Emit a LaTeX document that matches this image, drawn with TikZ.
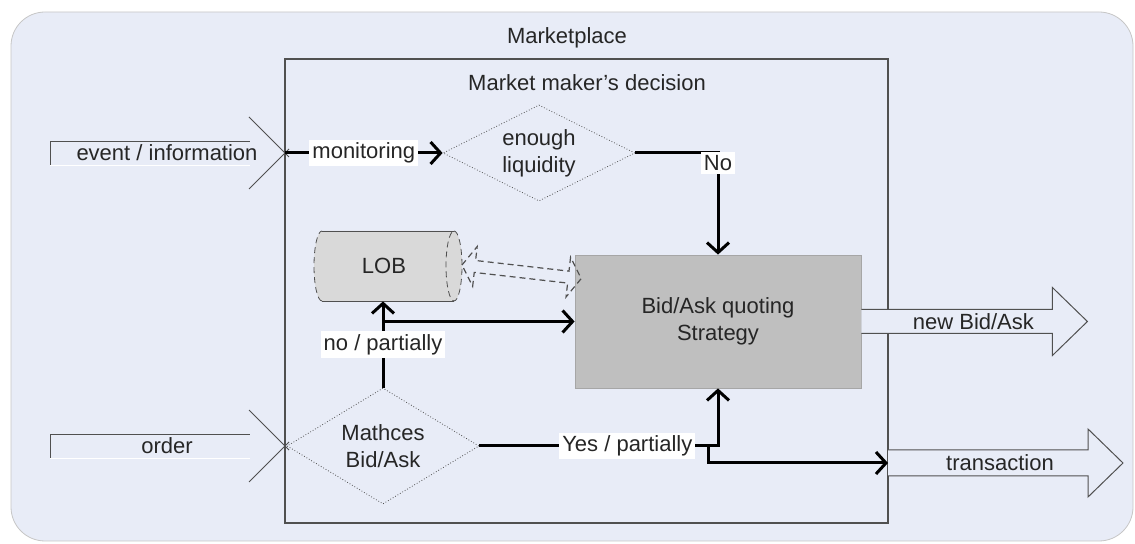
\documentclass[tikz,border=0pt]{standalone}
\usepackage{fontspec}
\setmainfont{Liberation Sans}
\usetikzlibrary{shapes.geometric, arrows.meta, calc}
\definecolor{marketbg}{HTML}{E8ECF7}
\definecolor{stratgray}{HTML}{BFBFBF}
\definecolor{lobgray}{HTML}{D9D9D9}
\definecolor{edgegray}{HTML}{505050}

\begin{document}
\begin{tikzpicture}[x=0.5pt, y=-0.5pt,
    txt/.style={font=\fontsize{11}{13.5}\selectfont, text=black!85, align=center},
    decision/.style={diamond, draw=edgegray, densely dotted, thin, txt, inner sep=0pt},
    flow/.style={line width=1.5pt, -{Straight Barb[length=5pt, width=11pt]}},
    lbl/.style={txt, fill=white, inner sep=1.5pt},
    bigarrow/.style={draw=edgegray, fill=marketbg, line width=0.5pt}]

    % Marketplace frame
    \useasboundingbox (0,0) rectangle (1135,544);
    \draw[gray!45, fill=marketbg, rounded corners=17pt] (11,12) rectangle (1133,541);
    \node[txt] (market) at (567,38) {Marketplace};

    % Market maker frame
    \draw[edgegray, line width=0.6pt] (285,59) rectangle (888,523);
    \node[txt] (maker) at (587,83) {Market maker's decision};

    % Inputs
    \draw[edgegray] (50,165) -- (50,141) -- (250,141);
    \draw[white] (50,165) -- (250,165);
    \draw[edgegray] (249,117) -- (289,157) (289,149) -- (249,189);
    \node[txt] (eventtxt) at (167,153) {event / information};
    \coordinate (evtip) at (285,153);

    \draw[edgegray] (50,458) -- (50,434) -- (250,434);
    \draw[white] (50,458) -- (250,458);
    \draw[edgegray] (249,410) -- (289,450) (289,442) -- (249,482);
    \node[txt] (ordertxt) at (167,446) {order};

    % Decisions
    \node[decision, minimum width=96pt, minimum height=48pt, aspect=2]
        (liq) at (539,153) {enough\\liquidity};
    \node[decision, minimum width=96pt, minimum height=58pt, aspect=1.66]
        (match) at (383,446) {Mathces\\Bid/Ask};

    % Quoting strategy
    \node[txt, draw=gray!70, fill=stratgray, minimum width=143pt, minimum height=66.5pt]
        (strat) at (718,321.5) {Bid/Ask quoting\\Strategy};

    % Limit order book
    \fill[lobgray] (322,231) -- (454,231) arc(90:-90:4pt and 17.5pt)
        -- (322,301) arc(270:90:4pt and 17.5pt) -- cycle;
    \draw[edgegray, thin] (322,231) -- (454,231) (322,301) -- (454,301);
    \draw[edgegray, thin, densely dashed] (454,231) arc(90:-90:4pt and 17.5pt)
        arc(270:90:4pt and 17.5pt);
    \draw[edgegray, thin, densely dashed] (322,301) arc(270:90:4pt and 17.5pt);
    \node[txt, minimum width=74pt, minimum height=35pt, inner sep=0pt] (lob) at (384,266) {LOB};

    % Book <-> strategy
    \begin{scope}[shift={(462,265)}, rotate=-6.5]
        \draw[edgegray, densely dashed, line width=0.6pt] (0,0) -- (13,-20) -- (13,-6) -- (107,-6)
            -- (107,-20) -- (120,0) -- (107,20) -- (107,6) -- (13,6) -- (13,20) -- cycle;
    \end{scope}

    % Outputs
    \begin{scope}[shift={(strat.east)}]
        \filldraw[bigarrow] (0,-12) -- (191,-12) -- (191,-34) -- (226,0)
            -- (191,34) -- (191,12) -- (0,12);
        \node[txt] (newquote) at (112,0) {new Bid/Ask};
    \end{scope}
    \coordinate (trtail) at (888,463);
    \begin{scope}[shift={(trtail)}]
        \filldraw[bigarrow] (0,-13) -- (200,-13) -- (200,-34) -- (235,0)
            -- (200,34) -- (200,13) -- (0,13);
        \node[txt] (trans) at (112,0) {transaction};
    \end{scope}

    % Flows
    \draw[flow] (evtip) -- node[lbl] (monlbl) {monitoring} (liq.west);
    \draw[flow] (liq.east) -| node[lbl, pos=0.5, yshift=-5pt] (nolbl) {No} (strat.north);
    \draw[flow] (match.north) -- node[lbl] (partlbl) {no / partially} (match.north |- lob.south);
    \coordinate (lobfork) at (match.north |- strat.west);
    \draw[flow] (lobfork) -- (strat.west);
    \coordinate (yesfork) at (708,446);
    \draw[flow] (yesfork) |- (trtail);
    \draw[flow] (match.east) -| node[lbl, pos=0.31] (yeslbl) {Yes / partially} (strat.south);
\end{tikzpicture}
\end{document}
